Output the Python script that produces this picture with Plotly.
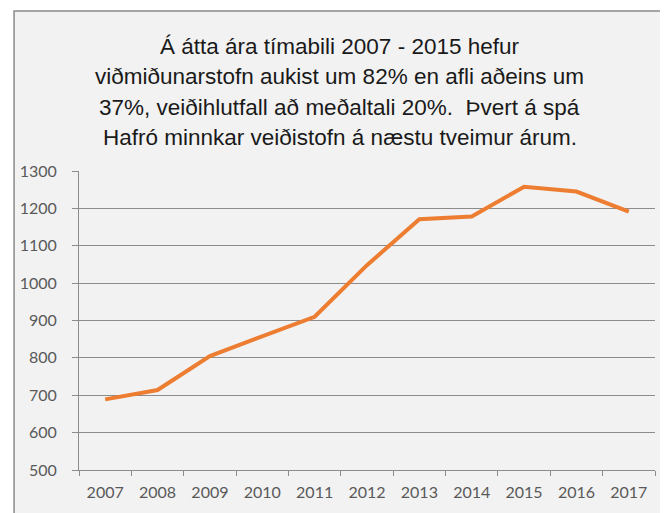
import plotly.graph_objects as go

years = ["2007", "2008", "2009", "2010", "2011", "2012", "2013", "2014", "2015", "2016", "2017"]
values = [689, 714, 805, 857, 910, 1048, 1171, 1178, 1258, 1245, 1191]
title_lines = [
    "Á átta ára tímabili 2007 - 2015 hefur",
    "viðmiðunarstofn aukist um 82% en afli aðeins um",
    "37%, veiðihlutfall að meðaltali 20%.  Þvert á spá",
    "Hafró minnkar veiðistofn á næstu tveimur árum.",
]
y_ticks = [500, 600, 700, 800, 900, 1000, 1100, 1200, 1300]

# page is offset by the 8px body margin
OFF = 8
W, H = 668 - OFF, 513 - OFF
L, R, T, B = 74 - OFF, 13, 171 - OFF, 41
pw, ph = W - L - R, H - T - B

def px(x):
    return (x - OFF - L) / pw

def py(y):
    return (H - B - (y - OFF)) / ph

fig = go.Figure()
fig.add_trace(go.Scatter(
    x=years, y=values, mode="lines",
    line=dict(color="#ed7d31", width=4),
    hoverinfo="skip", showlegend=False,
))

shapes = [dict(type="rect", xref="paper", yref="paper",
               x0=px(8.5), x1=px(690), y0=py(540), y1=py(10),
               fillcolor="#f2f2f2", line=dict(color="#8a8a8a", width=1.5),
               layer="below")]

annotations = []
for i, t in enumerate(title_lines):
    annotations.append(dict(
        text=t, xref="paper", yref="paper", x=px(337), y=py(46 + 30.3 * i),
        xanchor="center", yanchor="middle", showarrow=False,
        font=dict(family="Liberation Sans, Arial", size=22.5, color="#1a1a1a"),
    ))

fig.update_layout(
    width=W, height=H,
    margin=dict(l=L, r=R, t=T, b=B, pad=0),
    paper_bgcolor="white",
    plot_bgcolor="rgba(0,0,0,0)",
    shapes=shapes,
    annotations=annotations,
    showlegend=False,
)
fig.update_xaxes(
    type="category", tickson="boundaries", range=[-0.5, 10.5],
    showgrid=False, showline=True, linecolor="#8c8c8c", linewidth=1,
    ticks="outside", ticklen=5, tickcolor="#8c8c8c",
    ticklabelstandoff=8,
    tickfont=dict(family="Lato, Open Sans", size=16, color="#595959"),
)
fig.update_yaxes(
    range=[500, 1300], tickvals=y_ticks,
    showgrid=True, gridcolor="#8c8c8c", gridwidth=1,
    showline=True, linecolor="#8c8c8c", linewidth=1,
    ticks="outside", ticklen=6, tickcolor="#8c8c8c",
    ticklabelstandoff=12,
    tickfont=dict(family="Lato, Open Sans", size=16, color="#595959"),
    zeroline=False,
)

fig.write_html("out.html")
